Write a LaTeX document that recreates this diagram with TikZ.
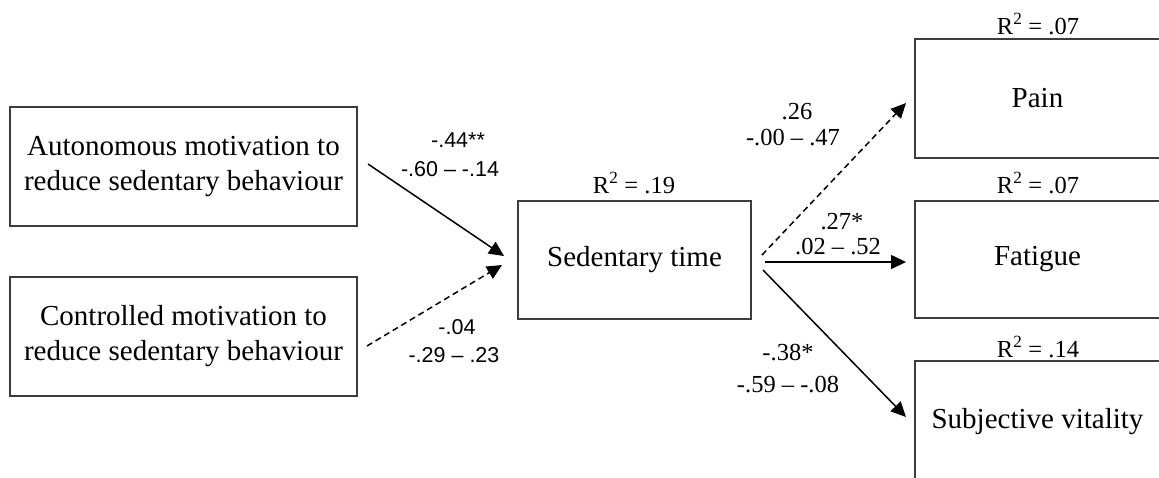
\documentclass[tikz,border=0pt]{standalone}
\usepackage{fontspec}
\setmainfont{Liberation Serif}
\newfontfamily\arialfont{Liberation Sans}
\usetikzlibrary{arrows.meta}
\definecolor{boxline}{HTML}{3C3C3C}
\begin{document}
\begin{tikzpicture}[x=1pt,y=-1pt,
  box/.style={draw=boxline, line width=1.7pt, inner sep=0pt, align=center,
    font=\fontsize{29}{35}\selectfont},
  lbl/.style={font=\fontsize{24.5}{28}\selectfont, inner sep=0pt},
  lbls/.style={font=\arialfont\fontsize{21.5}{26}\selectfont, inner sep=0pt},
  conn/.style={line width=1.5pt, -{Triangle[length=15pt,width=14pt]}},
  dconn/.style={conn, dash pattern=on 6pt off 4pt}]
\useasboundingbox (0,0) rectangle (1159,477);

% predictor boxes
\node[box, minimum width=347pt, minimum height=119pt] (auto) at (183.5,166.5)
  {Autonomous motivation to\\reduce sedentary behaviour};
\node[box, minimum width=347pt, minimum height=119pt] (ctrl) at (183.5,336.5)
  {Controlled motivation to\\reduce sedentary behaviour};

% mediator
\node[box, minimum width=233pt, minimum height=118pt] (sed) at (634.5,260) {Sedentary time};
\node[lbl] (rsed) at (634,183) {R\textsuperscript{2} = .19};

% outcome boxes
\node[box, minimum width=245pt, minimum height=119pt] (pain) at (1037.5,98.5) {Pain};
\node[box, minimum width=245pt, minimum height=117pt] (fat) at (1037.5,259.5) {Fatigue};
\node[box, minimum width=245pt, minimum height=122pt] (vit) at (1037.5,422) {Subjective vitality};
\node[lbl] (rpain) at (1038,24) {R\textsuperscript{2} = .07};
\node[lbl] (rfat) at (1038,183) {R\textsuperscript{2} = .07};
\node[lbl] (rvit) at (1038,347) {R\textsuperscript{2} = .14};

% connector end points
\coordinate (autoOut) at (368,164);
\coordinate (ctrlOut) at (367,346);
\coordinate (sedInA) at (504,256);
\coordinate (sedInC) at (502,265);
\coordinate (sedOutP) at (762,255);
\coordinate (sedOutF) at (765,262);
\coordinate (sedOutV) at (763,270);
\coordinate (painIn) at (906,103);
\coordinate (fatIn) at (906,262);
\coordinate (vitIn) at (906,417);

% paths
\draw[conn] (autoOut) -- (sedInA);
\draw[dconn] (ctrlOut) -- (sedInC);
\draw[dconn] (sedOutP) -- (painIn);
\draw[conn] (sedOutF) -- (fatIn);
\draw[conn] (sedOutV) -- (vitIn);

% coefficients and intervals
\node[lbls] (bA) at (458,140) {-.44**};
\node[lbls] (ciA) at (450,169) {-.60 – -.14};
\node[lbls] (bC) at (457,327) {-.04};
\node[lbls] (ciC) at (454,355) {-.29 – .23};
\node[lbl] (bP) at (797,112) {.26};
\node[lbl] (ciP) at (793,138) {-.00 – .47};
\node[lbl] (bF) at (842,222) {.27*};
\node[lbl] (ciF) at (838,247) {.02 – .52};
\node[lbl] (bV) at (788,353) {-.38*};
\node[lbl] (ciV) at (788,385) {-.59 – -.08};
\end{tikzpicture}
\end{document}
